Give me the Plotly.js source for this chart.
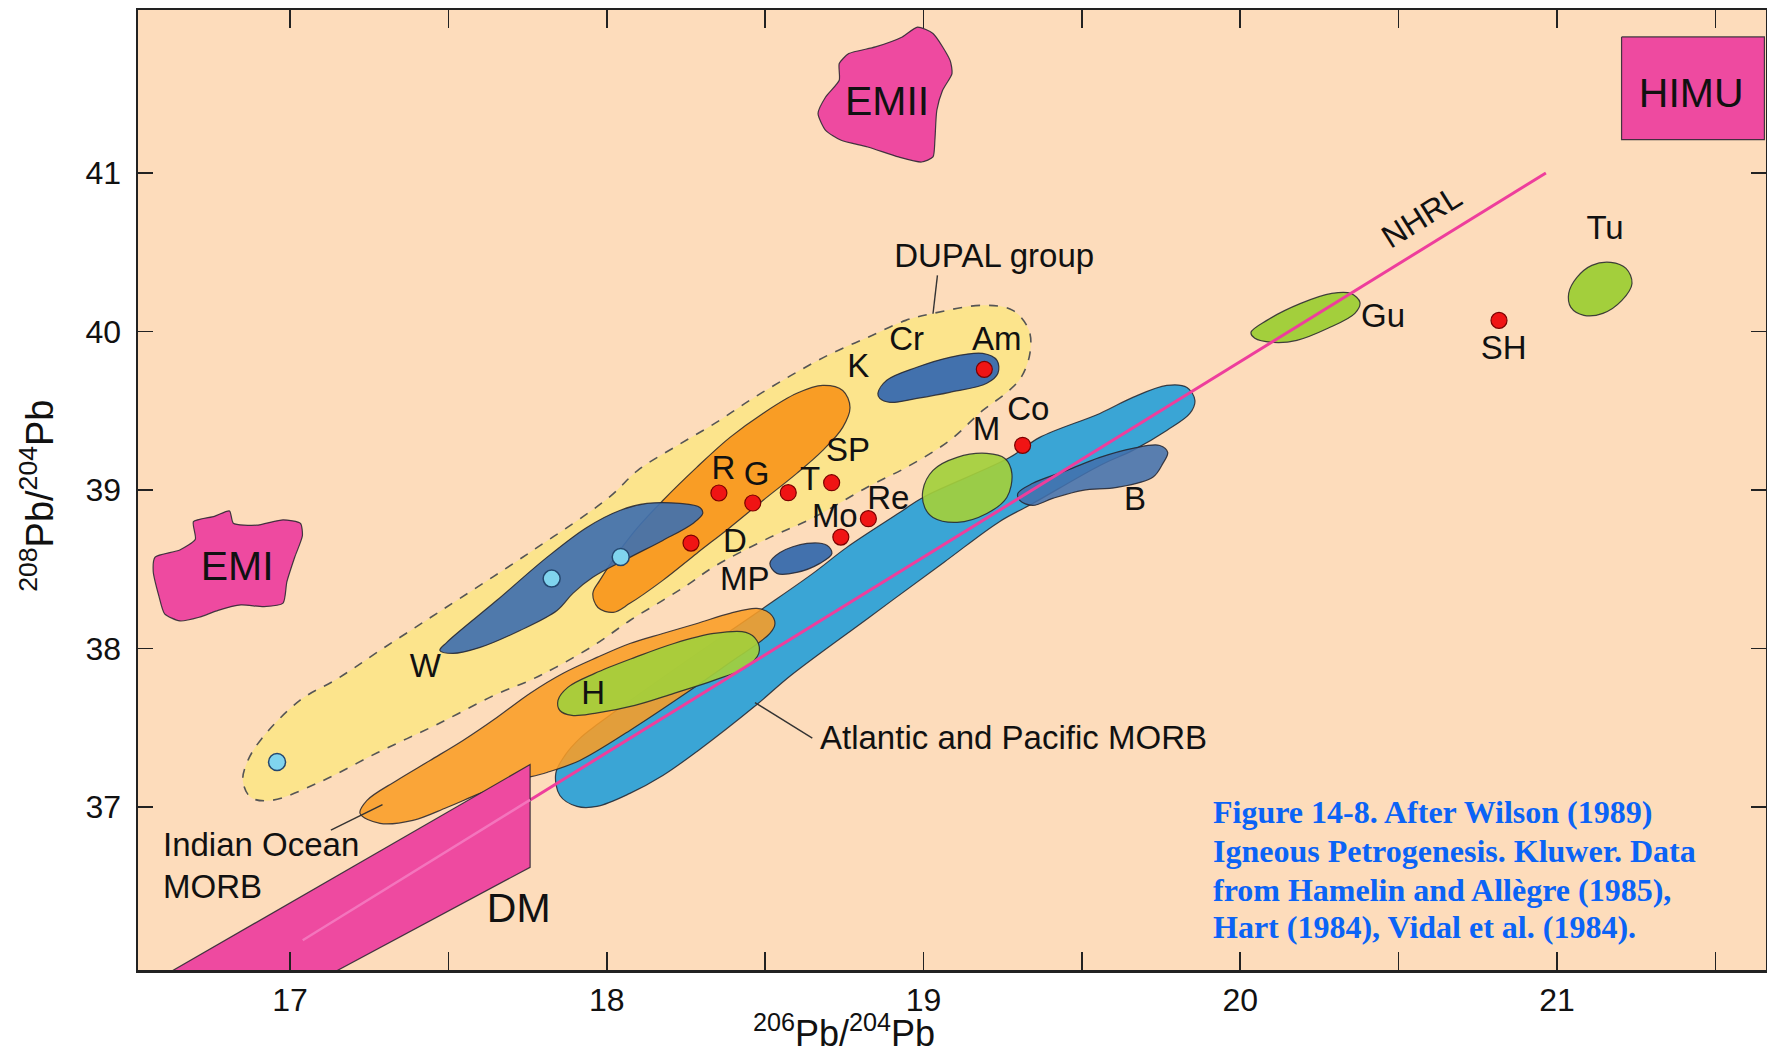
<!DOCTYPE html>
<html><head><meta charset="utf-8">
<script src="https://cdn.plot.ly/plotly-3.0.1.min.js"></script>
<style>html,body{margin:0;padding:0;background:#fff;}#chart{width:1767px;height:1057px;}</style>
</head><body><div id="chart"></div>
<script>
// ---- axis ticks ----
const xTickVals = [17,18,19,20,21];
const xTickText = ['17','18','19','20','21'];
const yTickVals = [37,38,39,40,41];
const yTickText = ['37','38','39','40','41'];

// ---- fields (206Pb/204Pb , 208Pb/204Pb outlines) ----
const dupalX = [16.851,16.867,16.911,17.031,17.151,17.284,17.473,17.757,18.007,18.098,18.218,18.341,18.461,18.582,18.704,18.824,18.944,19.03,19.187,19.282,19.333,19.336,19.308,19.26,19.187,19.083,18.957,18.821,18.654,18.515,18.335,18.262,18.177,18.073,17.969,17.839,17.757,17.65,17.464,17.277,17.091,16.94,16.876];
const dupalY = [37.168,37.294,37.433,37.673,37.811,37.988,38.234,38.606,38.953,39.124,39.275,39.42,39.578,39.723,39.856,39.963,40.07,40.114,40.165,40.133,40.007,39.862,39.71,39.61,39.502,39.313,39.155,39.016,38.827,38.701,38.512,38.411,38.304,38.177,38.032,37.881,37.799,37.71,37.521,37.344,37.155,37.042,37.061];

const rgX = [17.956,17.978,18.082,18.177,18.284,18.389,18.493,18.6,18.682,18.745,18.768,18.745,18.682,18.6,18.493,18.389,18.284,18.177,18.073,18.02,17.972];
const rgY = [38.348,38.43,38.726,38.934,39.143,39.332,39.483,39.61,39.66,39.628,39.521,39.395,39.25,39.105,38.934,38.764,38.6,38.43,38.285,38.228,38.259];

const wX = [17.473,17.495,17.653,17.811,17.937,18.041,18.127,18.231,18.294,18.303,18.272,18.177,18.073,17.956,17.893,17.843,17.726,17.6,17.514];
const wY = [37.988,38.039,38.304,38.575,38.764,38.871,38.915,38.915,38.89,38.852,38.789,38.682,38.575,38.449,38.348,38.24,38.114,38.007,37.969];

const crAmX = [18.856,18.884,18.979,19.083,19.187,19.232,19.235,19.2,19.083,18.979,18.894,18.862];
const crAmY = [39.61,39.692,39.774,39.837,39.862,39.818,39.736,39.673,39.616,39.578,39.553,39.578];

const mpX = [18.515,18.547,18.632,18.695,18.711,18.673,18.6,18.537];
const mpY = [38.537,38.606,38.663,38.651,38.6,38.537,38.48,38.474];

const morbX = [17.839,17.868,17.915,17.975,18.231,18.493,18.651,18.758,18.926,18.998,19.273,19.367,19.557,19.661,19.768,19.832,19.857,19.841,19.768,19.661,19.557,19.345,19.241,19.064,18.824,18.581,18.474,18.285,18.177,18.073,17.969,17.906,17.852];
const morbY = [37.212,37.326,37.433,37.528,37.893,38.253,38.474,38.638,38.859,38.953,39.206,39.332,39.483,39.584,39.66,39.647,39.565,39.483,39.376,39.25,39.155,38.915,38.802,38.543,38.19,37.83,37.647,37.351,37.199,37.086,37.004,37.004,37.073];

const ioX = [17.221,17.243,17.337,17.442,17.546,17.653,17.757,17.861,17.969,18.073,18.177,18.285,18.389,18.474,18.515,18.531,18.515,18.389,18.231,18.073,17.915,17.811,17.704,17.6,17.495,17.388,17.284];
const ioY = [36.96,37.042,37.168,37.294,37.42,37.565,37.717,37.843,37.944,38.032,38.095,38.158,38.222,38.253,38.222,38.158,38.095,37.912,37.692,37.483,37.294,37.218,37.162,37.086,36.997,36.916,36.897];

const hX = [17.846,17.877,17.962,18.089,18.212,18.338,18.439,18.474,18.48,18.439,18.338,18.212,18.089,17.962,17.89,17.852];
const hY = [37.673,37.755,37.843,37.944,38.032,38.095,38.102,38.051,37.969,37.881,37.799,37.717,37.641,37.591,37.578,37.609];

const mX = [18.998,19.03,19.106,19.2,19.257,19.279,19.263,19.2,19.106,19.03,19.004];
const mY = [38.998,39.124,39.206,39.231,39.199,39.105,38.953,38.852,38.796,38.827,38.89];

const bX = [19.298,19.345,19.453,19.557,19.661,19.746,19.771,19.756,19.724,19.611,19.503,19.408,19.345,19.304];
const bY = [38.979,39.042,39.124,39.206,39.263,39.281,39.237,39.168,39.08,39.016,38.998,38.947,38.903,38.934];

const guX = [20.034,20.084,20.191,20.289,20.349,20.378,20.362,20.277,20.179,20.106,20.046];
const guY = [39.994,40.07,40.177,40.24,40.24,40.184,40.114,40.02,39.944,39.931,39.957];

const tuX = [21.037,21.063,21.11,21.17,21.218,21.237,21.205,21.145,21.085,21.044];
const tuY = [40.24,40.341,40.417,40.436,40.398,40.303,40.196,40.114,40.102,40.152];

const emiiX = [18.981,19.03,19.084,19.09,19.06,19.042,19.036,19.03,18.994,18.921,18.824,18.74,18.691,18.667,18.691,18.734,18.734,18.764,18.848,18.933];
const emiiY = [41.92,41.88,41.71,41.627,41.52,41.394,41.206,41.101,41.069,41.101,41.164,41.206,41.269,41.375,41.479,41.585,41.69,41.753,41.795,41.858];

const emiX = [16.574,16.652,16.701,16.695,16.761,16.809,16.821,16.894,16.978,17.033,17.039,17.015,16.99,16.978,16.918,16.845,16.773,16.713,16.652,16.604,16.586,16.568];
const emiY = [38.577,38.622,38.689,38.80,38.834,38.868,38.79,38.778,38.812,38.79,38.711,38.577,38.42,38.286,38.264,38.275,38.241,38.197,38.174,38.219,38.331,38.488];

const himuX = [21.204,21.655,21.655,21.204,21.204];
const himuY = [41.858,41.858,41.21,41.21,41.858];

const dmX = [16.57,17.758,17.758,17.085,16.57];
const dmY = [35.9,37.268,36.62,35.9,35.9];

// Northern Hemisphere Reference Line
const nhrlX = [17.758,20.965];
const nhrlY = [37.045,41.0];
const nhrlInDmX = [17.04,17.758];
const nhrlInDmY = [36.16,37.045];

// ---- individual islands ----
const redNames = ['Am','Co','R','G','T','SP','D','Mo','Re','SH'];
const redX = [19.192,19.313,18.354,18.461,18.573,18.71,18.266,18.739,18.826,20.817];
const redY = [39.761,39.282,38.981,38.918,38.983,39.046,38.665,38.703,38.819,40.07];
const cyanX = [16.959,17.826,18.044];
const cyanY = [37.284,38.441,38.577];

// ---- labels ----
const labelText = ['R','G','T','SP','D','Mo','Re','MP','K','Cr','Am','Co','M','B','W','H','Gu','SH','Tu','DUPAL group'];
const labelX = [18.368,18.473,18.642,18.762,18.405,18.72,18.889,18.436,18.794,18.947,19.231,19.331,19.199,19.668,17.427,17.957,20.451,20.832,21.152,19.223];
const labelY = [39.124,39.082,39.05,39.233,38.662,38.819,38.935,38.42,39.766,39.934,39.934,39.492,39.366,38.924,37.873,37.705,40.081,39.881,40.638,40.46];
const bigText = ['EMII','EMI','HIMU','DM'];
const bigX = [18.885,16.833,21.424,17.722];
const bigY = [41.43,38.50,41.48,36.34];

const leaderDupalX = [19.044,19.03], leaderDupalY = [40.354,40.112];
const leaderMorbX = [18.468,18.649], leaderMorbY = [37.659,37.435];
const leaderIoX = [17.129,17.292], leaderIoY = [36.854,37.015];

const captionLines = ['Figure 14-8. After Wilson (1989)','Igneous Petrogenesis. Kluwer. Data','from Hamelin and Allègre (1985),','Hart (1984), Vidal et al. (1984).'];

// ---- colours ----
const C = {
  peach:'#fddcbb', pink:'#ee4aa0', yellow:'#fce48c', orange:'#f99d25',
  dblue:'#4271ad', lblue:'#3aa5d5', green:'#a3cf3c', red:'#f01414',
  cyan:'#80d4ee', nhrl:'#ee3e9c', edge:'rgba(35,35,45,0.85)'
};
const FONT = 'Liberation Sans, Arial, Helvetica, sans-serif';
const TXT = '#111111';

function closed(a){ return a.concat([a[0]]); }
function field(x, y, fill, opts){
  opts = opts || {};
  return {
    x: closed(x), y: closed(y), type:'scatter', mode:'lines', fill:'toself',
    fillcolor: fill,
    line:{color: opts.lineColor || C.edge, width: opts.width || 1.2,
          shape: opts.linear ? 'linear' : 'spline', smoothing: opts.smooth || 1,
          dash: opts.dash || 'solid'},
    hoverinfo:'skip', showlegend:false
  };
}
function line(x, y, color, width){
  return {x:x, y:y, type:'scatter', mode:'lines', line:{color:color, width:width},
          hoverinfo:'skip', showlegend:false};
}

const traces = [
  field(dupalX, dupalY, C.yellow, {dash:'dash', width:1.6, lineColor:'#555'}),
  field(rgX, rgY, C.orange),
  field(wX, wY, 'rgba(66,113,173,0.93)'),
  field(crAmX, crAmY, C.dblue),
  field(mpX, mpY, C.dblue),
  field(morbX, morbY, C.lblue),
  field(ioX, ioY, 'rgba(249,157,37,0.88)'),
  field(hX, hY, 'rgba(163,207,60,0.92)'),
  field(mX, mY, 'rgba(163,207,60,0.92)'),
  field(bX, bY, 'rgba(66,113,173,0.88)'),
  field(guX, guY, C.green),
  field(tuX, tuY, C.green),
  field(emiiX, emiiY, C.pink, {smooth:0.6}),
  field(emiX, emiY, C.pink, {smooth:0.6}),
  field(himuX, himuY, C.pink, {linear:true}),
  line(nhrlX, nhrlY, C.nhrl, 3),
  field(dmX, dmY, C.pink, {linear:true}),
  line(nhrlInDmX, nhrlInDmY, '#f475bd', 2.5),
  line(leaderDupalX, leaderDupalY, '#333', 1.4),
  line(leaderMorbX, leaderMorbY, '#333', 1.4),
  line(leaderIoX, leaderIoY, '#333', 1.4),
  {x:cyanX, y:cyanY, type:'scatter', mode:'markers',
   marker:{size:17, color:C.cyan, line:{color:'#24476f', width:1.5}}, hoverinfo:'skip', showlegend:false},
  {x:redX, y:redY, customdata:redNames, type:'scatter', mode:'markers',
   marker:{size:16, color:C.red, line:{color:'#7a0000', width:1.2}}, hoverinfo:'skip', showlegend:false},
  {x:labelX, y:labelY, text:labelText, type:'scatter', mode:'text', textposition:'middle center',
   textfont:{family:FONT, size:33, color:TXT}, hoverinfo:'skip', showlegend:false},
  {x:bigX, y:bigY, text:bigText, type:'scatter', mode:'text', textposition:'middle center',
   textfont:{family:FONT, size:41, color:TXT}, hoverinfo:'skip', showlegend:false}
];

const annotations = [
  {x:20.572, y:40.722, xref:'x', yref:'y', text:'NHRL', showarrow:false, textangle:-32,
   font:{family:FONT, size:32, color:TXT}},
  {x:18.667, y:37.436, xref:'x', yref:'y', text:'Atlantic and Pacific MORB', showarrow:false,
   xanchor:'left', yanchor:'middle', font:{family:FONT, size:33, color:TXT}},
  {x:16.592, y:36.765, xref:'x', yref:'y', text:'Indian Ocean', showarrow:false,
   xanchor:'left', yanchor:'middle', font:{family:FONT, size:33, color:TXT}},
  {x:16.592, y:36.497, xref:'x', yref:'y', text:'MORB', showarrow:false,
   xanchor:'left', yanchor:'middle', font:{family:FONT, size:33, color:TXT}},
  {x:0.4335, y:-0.064, xref:'paper', yref:'paper', text:'<sup>206</sup>Pb/<sup>204</sup>Pb', showarrow:false,
   xanchor:'center', yanchor:'middle', font:{family:FONT, size:36, color:TXT}},
  {x:-0.062, y:0.494, xref:'paper', yref:'paper', text:'<sup>208</sup>Pb/<sup>204</sup>Pb', showarrow:false,
   textangle:-90, xanchor:'center', yanchor:'middle', font:{family:FONT, size:38, color:TXT}}
];
const capY = [0.1646, 0.124, 0.0833, 0.0448];
captionLines.forEach(function(t, i){
  annotations.push({x:0.659, y:capY[i], xref:'paper', yref:'paper', text:'<b>'+t+'</b>', showarrow:false,
    xanchor:'left', yanchor:'middle', font:{family:'Liberation Serif, Times New Roman, serif', size:32, color:'#0b63f6'}});
});

const axisCommon = {
  showline:true, linewidth:2.5, linecolor:'#222', mirror:'allticks', showgrid:false, zeroline:false,
  ticks:'inside', tickwidth:1.6, tickcolor:'#222', fixedrange:true,
  tickfont:{family:FONT, size:32, color:TXT}
};
const layout = {
  width:1767, height:1057,
  margin:{l:138, r:1, t:10, b:87, pad:0},
  paper_bgcolor:'#ffffff', plot_bgcolor:C.peach,
  showlegend:false,
  xaxis: Object.assign({}, axisCommon, {range:[16.52,21.66], tickmode:'array', tickvals:xTickVals, ticktext:xTickText,
    ticklen:18, ticklabelstandoff:0,
    minor:{tick0:17, dtick:0.5, ticks:'inside', ticklen:18, tickwidth:1.6, tickcolor:'#222', showgrid:false}}),
  yaxis: Object.assign({}, axisCommon, {range:[35.972,42.028], tickmode:'array', tickvals:yTickVals, ticktext:yTickText, ticklen:15, ticklabelstandoff:8}),
  annotations: annotations
};
Plotly.newPlot('chart', traces, layout, {displayModeBar:false, staticPlot:true});
</script>
</body></html>
